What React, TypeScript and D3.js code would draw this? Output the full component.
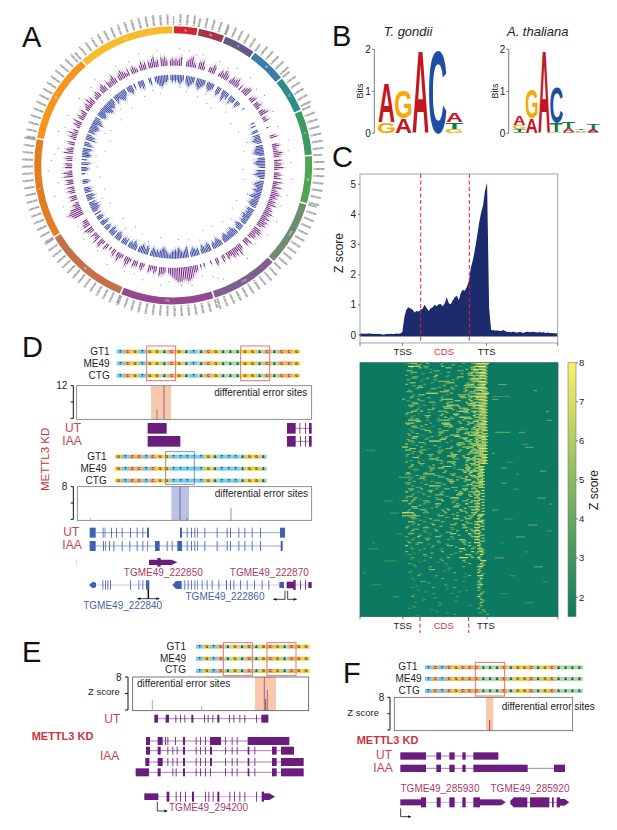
import React from "react";
import * as d3 from "d3";

const FONT = "'Liberation Sans', Arial, sans-serif";

// ---------- Panel A: circos ----------
const chromosomes = ["Ia","Ib","II","III","IV","V","VI","VIIa","VIIb","VIII","IX","X","XI","XII"];
const chromosomeMb = [1.87,2.05,2.5,2.8,2.8,3.45,3.65,5.0,5.2,7.1,6.6,7.6,6.8,7.4];
const chromosomeColors = ["#d9232e","#a5334f","#615a86","#3b7ca9","#2e8c8b","#3d9a62","#4ea552","#6f8c6f","#7d5f90","#96488f","#c66f4b","#e37c22","#f7941e","#f8bb2b"];
const purpleBars = [
"343450034563204452003354002435430243453030345500234033420345",
"022300010000340003422354304243520342405325234534243523435435",
"354530455344205340034635453340240034002000202034467887788876",
"543034450342340024303340245302353043020340254053240345044330",
"006787634204340342404340535204340343053420340243523024350342",
"340234253402343034530433453034543240343203534043563405453034"];
const blueBars = [
"343454304565430456543034543004540356340353303420001000000000",
"020300340434543044556530445654305456430345543543456344543044",
"343544343045430345444345430345434304543453043454306543456454",
"432345654343453045345430345343043430345404354034304530343040",
"345453404354043430034300020343045030454345054306453043455436",
"543045543456645543054345654303454030043540003400345665443034"];
const purpleOutliers: [number,number][] = [[3,118],[8,117],[15,116],[24,115],[33,117],[41,118],[52,116],[61,114],[77,118],[88,118],[96,119],[104,118],[118,117],[126,116],[141,118],[156,123],[158,120],[160,117],[171,120],[176,119],[186,119],[195,117],[205,116],[214,118],[231,115],[245,117],[256,122],[262,116],[268,125],[273,122],[279,116],[287,120],[296,117],[306,116],[318,117],[330,116],[343,118],[352,117],[12,114],[29,113],[47,114],[69,112],[82,116],[110,115],[133,113],[165,113],[182,115],[200,114],[222,113],[238,112],[250,117],[276,119],[290,115],[314,114],[337,114]];
const blueOutliers: [number,number][] = [[10,76],[19,74],[28,72],[33,70],[44,76],[53,72],[62,74],[78,72],[92,70],[100,72],[118,72],[125,72],[138,74],[147,71],[155,70],[168,74],[176,73],[190,72],[205,74],[212,71],[224,72],[240,73],[252,72],[262,74],[270,76],[283,70],[292,68],[300,72],[312,70],[325,72],[338,76],[350,74],[5,80],[24,79],[72,78],[85,80],[110,79],[132,78],[160,78],[198,79],[218,78],[246,78],[278,78],[296,76],[318,78],[345,79]];

// ---------- Panel B: logos ----------
type Glyph = { col:number; c:string; lo:number; hi:number };
const logoGondii: Glyph[] = [
 {col:0,c:"G",lo:0,hi:.25},{col:0,c:"A",lo:.28,hi:1.24},
 {col:1,c:"A",lo:0,hi:.36},{col:1,c:"G",lo:.36,hi:1.03},
 {col:2,c:"A",lo:0,hi:2},{col:3,c:"C",lo:0,hi:2},
 {col:4,c:"G",lo:0,hi:.1},{col:4,c:"T",lo:.1,hi:.27},{col:4,c:"A",lo:.27,hi:.5}];
const logoThaliana: Glyph[] = [
 {col:0,c:"C",lo:0,hi:.03},{col:0,c:"T",lo:.03,hi:.1},{col:0,c:"G",lo:.1,hi:.2},{col:0,c:"A",lo:.2,hi:.41},
 {col:1,c:"A",lo:0,hi:.36},{col:1,c:"G",lo:.36,hi:1.05},
 {col:2,c:"A",lo:0,hi:2},
 {col:3,c:"G",lo:0,hi:.02},{col:3,c:"T",lo:.02,hi:.25},{col:3,c:"C",lo:.25,hi:1.1},
 {col:4,c:"C",lo:0,hi:.04},{col:4,c:"A",lo:.04,hi:.12},{col:4,c:"T",lo:.12,hi:.27},
 {col:5,c:"G",lo:0,hi:.03},{col:5,c:"A",lo:.03,hi:.07},{col:5,c:"T",lo:.08,hi:.1},
 {col:6,c:"C",lo:0,hi:.03},{col:6,c:"A",lo:.03,hi:.1},{col:6,c:"T",lo:.1,hi:.22}];
const logoColors: Record<string,string> = {A:"#c4161f",G:"#f6a90b",C:"#1e4ea3",T:"#0d7d3e"};
const glyphWidth: Record<string,number> = {A:72,G:70,C:64,T:58};

// ---------- Panel C: metagene ----------
const zProfile = [.04,.05,.04,.04,.05,.05,.04,.03,.03,.04,.03,.02,.02,.03,.03,.04,.03,.03,.05,.04,.05,
.1,.6,.85,.92,.88,.85,.75,.8,.78,.84,.87,1.0,.9,.8,.88,.92,1.0,.95,1.02,1.03,.95,1.05,1.25,1.05,1.02,1.15,1.25,1.3,1.15,1.4,1.5,1.47,1.6,1.8,2.25,2.5,2.85,3.25,3.7,4.05,4.3,4.8,5.05,.9,
.17,.16,.15,.15,.14,.13,.17,.13,.1,.1,.09,.12,.08,.08,.1,.09,.07,.1,.11,.09,.1,.11,.09,.08,.1,.08,.09,.07,.08,.07,.07,.06,.06,.05];
const zTicks = [0,1,2,3,4,5];

// ---------- Panel C: heat map (Z score digits for columns between TSS and TTS) ----------
const heatMid = [
".3466...5....3......4..568888",
"..7866.44....5.....3...47888",
".........3...........5.68787",
"...55....4.....5......466788",
".4.........6...3......565687",
"...44...5.........4...477788",
"......3.....5555.......56888",
".5.....4......3......567.678",
".....66.....4...4....5557888",
"..4...........55.....6..6786",
"........7777....5.....4568788",
"...5.3.......3.....66.678888",
"5....5.......6666.....6.5787",
"...44....55....55....5.57667",
"..55...4..3....7766...678887",
".....3....5...666..665.56786",
"...66.6.....555...4777.67688",
".5...3.......5...77.....5687",
"...4....5.....6.4..7766.6768",
"..6666..4...5566....4...5677",
".666.....4...677...5..66.788",
"...55.5...3...557.......6877",
"..3...44....5.....5666.67878",
"...4.....5..66....6..557787",
"..5...3.....5...667...788877",
"...66...4....56....477..6788",
"..55.....7777...3....67.6876",
".6.3...4..........666.577878",
"77....5.....4...5...6677.887",
".66...55....44.....5...77787",
"...4..6.....5...6.....66878",
".4...4...5.....777..6...7788",
".....3...666.....44..5777877",
".5...5.......4.666...5..7868",
"...6..4...5......5...7.678",
"..4......55.66...3...77.787",
"....3....4....5.....6667878",
".55....6666.....55....6..87",
"...3..55....55....44.7.6787",
"..4....4.......66.5..77..78",
".55...3....55...6......6688",
"...4.....7766.......44.5776",
"..55..5....4..55....67.66",
".6...4...6...5.....7..5678",
"...4...3...555....66..6.78",
".4..6......4....777.....67",
"66.5...55....6...4..55.677",
"..5....4...66.....5..7..68",
"...66......5.....66...5677",
"..4...55.....4.6...7...777",
"8877...44.....5...4..5.67",
"666665......55....6...55.78",
"...44....5.......77..66..7",
"..66...4.....5.......5..688",
"...3.5....6.....55..7...67",
".5.....55.......4...55..77",
"...5...4...6......5..6.587",
"..55.....3......66....7.67",
".4...6.....55...4......577",
"...4....5......4...66...67",
"..5..55.....4.......5.5.77",
".6........4....55.....6..7",
"...4...4.....3.....77..5.66",
".5...........5.....5...6.57",
"..3....5........4....66...7",
"...4.....4.....5...777.5.7",
".......3.....4......5.....67",
"..4...........3.......5...6",
"....3....4..........4....67",
".........55....3.........5",
"..3..............4.......6",
".....4.....3..........5..67",
"...3.........4............6",
"......44............3....5",
"..............3..........56",
"...3......4......4.......6",
".....3...............3...4",
"..........3.....3.........5",
"...4..............3......6",
".......3..................5",
"....3.......3.............5",
"............3.........3...4",
"..3......................4",
"...........3...............4",
".................3..........4"];
// a second, interleaved set of thin rows between the rows above
const heatMid2 = [
"....55......4...5.......5667",
"..4..6.5......66......56.676",
".66.......55......55...66.77",
"..3...4.....3......5.57.5687",
"...55.....6...4...66...5.767",
".5....3...5.....5.....6775.6",
"..66.....4....566....5.4.677",
"...4.5.......5...5..6665.68",
"....4....55.....6...5...6778",
".55.....3...666.....5.66..76",
"...3.66.......4...5555..5677",
"..5.....5...4......66.5.7667",
".4...44.....5....66...7..578",
"...66.....3...5......677.687",
"..5..3.......666..5....6.776",
"....5...55......5...67...687",
".55.....4.....5.....55.6.577",
"...3...66...5....5.....7.667",
"..4.5......4...55...666..676",
"....66.....3......5..5.67.78",
".5.....5.....666.....5..5687",
"...55...3......4...6...6.677",
"..3....66....55...5.....6.78",
".4..5.......4.......66.57.67",
"...66....5....5..66.....5687",
".5.....4....66......5.6.6.77",
"...3.55.......4...55..5.6.76",
"....4.....5.......6....66677",
"..66....3.....55.....6.5.787",
"...4.5.....44.....5...6.5687",
".5......55......66...5...677",
"...66......4....5...66.6..78",
"..4...3....55........6.5.677",
".....55.....4...5.....66.687",
"..5.....3....666.....5...77",
"...44....5........55.6.5.68",
".6.....4.....5......6.7..67",
"....5.....44....5.....66.77",
"..3..55.......5....55...5.6",
"...5.....4.....66...5..6.78",
".4.....5.....5.......66..67",
"....44.....3....55.....5.77",
"..5.....55.......5..6...6.8",
"...3..4.....5.....66...5.67",
".55.....4.....4.......6.5.7",
"...5.3.....55....4...5...67",
"..4....44.......5.....6.5.7",
".....5.....3.....55.....5.7",
"...55....4....4.....6...6.6",
".4.....5.....5.....55...5.7",
"...6.......4....5......6.67",
"..55...3......5.....5.5..6",
".....4....55.......5.....67",
"...4.....4.......5...55.5.6",
".5.....3....5.......5....67",
"...55.....4.....4.....5.5.7",
"..3....4......55.......5.6",
".....5......4.....5...5..66",
"...3...44.......4.......5.6",
".4.........5.......55....57",
"....5...3.....4.....5....6",
"..3......4.......5.....5.5",
".....4......3.......4....66",
"...3.....5.......4......5.6",
".......4......3.......5..5",
"..3.........4.......3....6",
".....3.....3........4.....5",
"...4..........3..........56",
"........3......4.........5",
"..3..........3...........6",
".....4..............3.....5",
"..........3.........3....5",
"...3.............4.......5",
"........4................6",
"....3.........3..........5",
"..............3..........4",
".......3..........3.......5",
"...3.....................5",
"..........4..............4",
"......3..........3........5",
"............3............4",
"...4.....................4",
".........3................5",
"..............3..........4",
"....3....................."];
// row, column, length, Z score for streaks outside the gene body
const heatOut: [number,number,number,number][] = [
[7,46,3,4],[9,58,1,4],[12,44,2,4],[16,62,1,4],[23,45,5,4],[23,53,2,4],[24,42,1,3],[28,55,3,4],[30,44,1,4],[33,49,2,3],[36,60,2,4],
[37,52,1,3],[40,47,2,4],[42,51,2,3],[45,59,3,4],[47,63,1,4],[49,44,2,4],[52,48,3,3],[54,56,3,4],[56,62,2,3],[58,52,3,4],[60,47,1,3],[63,55,1,3],
[65,45,3,4],[68,58,3,4],[71,50,2,3],[73,61,2,3],[77,47,2,3],[80,55,3,3],[11,44,6,3],[19,62,2,4],[27,54,2,3],[35,47,2,4],
[29,2,3,3],[38,13,4,4],[46,8,3,3],[57,12,2,3],[62,3,3,3],[66,8,4,3],[70,1,1,3],[74,4,3,3],[78,11,2,3],[60,4,1,3],[50,10,3,3]];

// ---------- Sequences ----------
const seqD1 = "TCGTGGACGATACGAAAGGACACCG";
const seqD2 = "GTCCTCGGTTTTTGATTTAGGA";
const seqE = "TGTCAGACAGCGACGG";
const seqF = "TCTCGCCCAAACAGGCAGCAAAA";
const strains = ["GT1","ME49","CTG"];
const baseColors: Record<string,string> = {A:"#a5dca8",T:"#74cdef",G:"#f8cb3c",C:"#f6ab62"};

// ---------- Gene models (exon = [start,end] or a single narrow exon position) ----------
type Exon = number | [number,number] | [number,number,number];
const PURPLE = "#6b1d7d", BLUE = "#4160b8", RED = "#c8434d", MAGENTA = "#a93b6c", BLUETXT = "#4a5fae";
const dUt1: Exon[] = [[413,470]];
const dUt2: Exon[] = [[831,857],868,885,[897,905]];
const dIaa1: Exon[] = [[413,511]];
const dIaa2: Exon[] = [[831,857],870,885,[897,905]];
const dUtB1: Exon[] = [[239,257],278,[284,286],303,318,335,360,380,397,[411,417]];
const dUtB2: Exon[] = [[510,516],530,543,553,[562,564],583,620,650,660,685,703,725,750,[810,825]];
const dIaaB: Exon[] = [[239,257],279,[285,287],297,310,335,358,380,397,[411,413],[435,449],470,485,[502,516],530,543,553,[562,564],583,620,650,660,685,703,725,750,[812,818]];
const dGene1: Exon[] = [277,285,292,300,360,385,397,[408,418,28]];
const dGene2: Exon[] = [523,533,543,553,[562,564],575,590,605,625,[648,651],660,670,690,710,732,755,775,[808,822,18]];
const dGene3: Exon[] = [[830,852,20],[850,857,30],870,885,[895,905,18]];
const eUt: Exon[] = [[433,444],[467,477],496,510,523,[544,550],582,593,607,[622,628],657,670,688,703,738,[754,775]];
const eIaa1: Exon[] = [[408,420],[443,458],465,472,495,[519,525],557,570,585,[600,633],645,665,680,[713,838]];
const eIaa2: Exon[] = [[408,420],[443,452],472,487,500,[519,525],557,570,585,[600,606],645,665,680,[713,718],733,[786,800],[813,852]];
const eIaa3: Exon[] = [[406,418],[443,458],472,487,500,[519,525],557,570,585,[600,606],645,665,680,[713,718],733,[786,800],[813,881]];
const eIaa4: Exon[] = [[377,417],[443,452],487,497,[519,525],557,570,585,600,645,665,680,[713,718],733,[786,800],[813,881]];
const eGene: Exon[] = [[403,445,20],[470,478,30],497,510,525,[546,552],585,595,608,[622,628],658,672,688,703,738,[755,762,30],[762,780,20]];
const fUt: Exon[] = [[181,258],[289,303],[328,344],[367,377],[400,475]];
const fIaa: Exon[] = [[181,258],[289,303],[328,344],[367,377],[400,563],[642,675]];
const fGene1: Exon[] = [[181,243,18],[243,258,30],[290,302,30],[328,344,30],[367,377,30],[400,420,30],[420,485,18]];
const fGene2: Exon[] = [[520,562,30],[570,628,30],[636,641,30],[650,660,30],[660,675,20]];

type S = d3.ScaleLinear<number,number>;

function Seq({seq,x0,x1,y,sx,sy}:{seq:string;x0:number;x1:number;y:number;sx:S;sy:S}){
  const band = d3.scaleBand<number>().domain(d3.range(seq.length)).range([sx(x0),sx(x1)]);
  return <g>{seq.split("").map((c,i)=>(
    <g key={i}>
      <rect x={band(i)} y={sy(y)-2} width={band.bandwidth()+.2} height={4} fill={baseColors[c]}/>
      <text x={band(i)!+band.bandwidth()/2} y={sy(y)+1.3} fontSize={3.6} fontWeight="bold" textAnchor="middle" fill="#222">{c}</text>
    </g>))}</g>;
}

function Track({exons,y,from,to,color,h,sx,sy,light=false}:{exons:Exon[];y:number;from:number;to:number;color:string;h:number;sx:S;sy:S;light?:boolean}){
  return <g>
    <line x1={sx(from)} x2={sx(to)} y1={sy(y)} y2={sy(y)} stroke={color} strokeWidth={.7} opacity={light?.45:.8}/>
    {exons.map((e,i)=>{
      const s = typeof e==="number"?e:e[0];
      const en = typeof e==="number"?null:e[1];
      const hh = (typeof e!=="number" && e.length===3)?e[2]:h;
      const w = en===null?1:sx(en)-sx(s);
      const pxh = sy(hh)-sy(0);
      return <rect key={i} x={sx(s)} y={sy(y)-pxh/2} width={w} height={pxh} fill={color} opacity={en===null?.85:1}/>;
    })}
  </g>;
}

function Bracket({x,y0,y1,tick,sx,sy}:{x:number;y0:number;y1:number;tick:number;sx:S;sy:S}){
  const m=(y0+y1)/2;
  return <g stroke="#111" strokeWidth={1} fill="none">
    <path d={`M${sx(x-tick)},${sy(y0)}H${sx(x)}V${sy(y1)}H${sx(x-tick)}M${sx(x-tick)},${sy(m)}H${sx(x)}`}/>
  </g>;
}

function Logo({glyphs,x0,colW,base,bit}:{glyphs:Glyph[];x0:number;colW:number;base:number;bit:number}){
  const y = d3.scaleLinear().domain([0,2]).range([base,base-2*bit]);
  return <g>{glyphs.map((g,i)=>{
    const h = y(g.lo)-y(g.hi);
    const sxx = colW/glyphWidth[g.c], syy = h/72;
    const offs = g.c==="A"?0:g.c==="T"?-2:-4;
    return <text key={i} transform={`translate(${x0+g.col*colW+offs*sxx},${y(g.lo)}) scale(${sxx},${syy})`} fontSize={100} fontWeight="bold" fill={logoColors[g.c]}>{g.c}</text>;
  })}</g>;
}

function Circos(){
  const cx=173.2, cy=165.2, R1=139, R0=132;
  const total = d3.sum(chromosomeMb);
  const ang = d3.scaleLinear().domain([0,total]).range([0,2*Math.PI]);
  const arc = d3.arc<{a0:number;a1:number}>().innerRadius(R0).outerRadius(R1).startAngle(d=>d.a0).endAngle(d=>d.a1);
  let acc=0;
  const sectors = chromosomes.map((name,i)=>{const s=acc;acc+=chromosomeMb[i];return {name,s,e:acc,i};});
  const deg = (a:number)=>a*Math.PI/180;
  const rP = d3.scaleLinear().domain([0,9]).range([101,117]);
  const rB = d3.scaleLinear().domain([0,9]).range([92,76]);
  const bars = (rows:string[],r:S,color:string,key:string)=>rows.join("").split("").map((ch,i)=>{
    const v=+ch; if(!v) return null;
    const [x0,y0]=d3.pointRadial(deg(i+.5),r(0));
    const [x1,y1]=d3.pointRadial(deg(i+.5),r(v));
    const [x2,y2]=d3.pointRadial(deg(i+.5),r(v+1.5));
    return <g key={key+i}>
      <line x1={x1} y1={y1} x2={x2} y2={y2} stroke={color} strokeWidth={.7} opacity={.4}/>
      <line x1={x0} y1={y0} x2={x1} y2={y1} stroke={color} strokeWidth={1.1} opacity={.9}/>
    </g>;
  });
  const dots = (pts:[number,number][],color:string,key:string)=>pts.map(([a,r],i)=>{
    const [x,y]=d3.pointRadial(deg(a),r);
    return <circle key={key+i} cx={x} cy={y} r={.5} fill={color} opacity={.8}/>;
  });
  return <g transform={`translate(${cx},${cy})`}>
    {sectors.map(s=>{
      const ticks=d3.range(0,s.e-s.s,.5);
      const mid=(ang(s.s)+ang(s.e))/2;
      const [tx,ty]=d3.pointRadial(mid,(R0+R1)/2);
      const md=mid*180/Math.PI;
      const flip=md>90&&md<270;
      return <g key={s.name}>
        <path d={arc({a0:ang(s.s)+.006,a1:ang(s.e)-.006})!} fill={chromosomeColors[s.i]}/>
        <text transform={`translate(${tx},${ty}) rotate(${flip?md-180:md})`} fontSize={3} fill="#fff" textAnchor="middle" dy={1}>{s.name}</text>
        {ticks.map((t,j)=>{
          const a=ang(s.s+t);
          const d0=a*180/Math.PI;
          const right=d0<180;
          const [x,y]=d3.pointRadial(a,R1+1.5);
          return <text key={j} transform={`translate(${x},${y}) rotate(${right?d0-90:d0+90})`} fontSize={2.4} fill="#666" stroke="#999" strokeWidth={.25} textAnchor={right?"start":"end"} dy={.8}>{d3.format(",")(Math.round(t*1e6)+500000)}</text>;
        })}
      </g>;
    })}
    <g transform="translate(0,1.5)">
      {bars(purpleBars,rP,"#6c1a7a","p")}
      {bars(blueBars,rB,"#2f3f9f","b")}
      {dots(purpleOutliers,"#6c1a7a","po")}
      {dots(blueOutliers,"#2f3f9f","bo")}
    </g>
  </g>;
}

function Metagene(){
  const x=d3.scaleLinear().domain([0,zProfile.length-1]).range([360,557.7]);
  const y=d3.scaleLinear().domain([0,5]).range([335,184.3]);
  const area=d3.area<number>().x((_,i)=>x(i)).y0(y(-.05)).y1(d=>y(d)).curve(d3.curveLinear);
  return <g>
    <path d={area(zProfile)!} fill="#1c2a6e"/>
    <rect x={360} y={174} width={197.7} height={169} fill="none" stroke="#999" strokeWidth={.9}/>
    {[360,402.5,486.5,557.7].map(v=><line key={v} x1={v} x2={v} y1={343} y2={346} stroke="#555" strokeWidth={.7}/>)}
    {zTicks.map(t=><g key={t}>
      <line x1={358} x2={360} y1={y(t)} y2={y(t)} stroke="#555" strokeWidth={.7}/>
      <text x={356} y={y(t)+3.6} fontSize={10} textAnchor="end" fill="#222">{t}</text>
    </g>)}
    {[420.7,469.3].map(v=><line key={v} x1={v} x2={v} y1={174} y2={343} stroke="#e0202e" strokeWidth={1} strokeDasharray="4 2.5"/>)}
    <text transform="translate(343,253) rotate(-90)" fontSize={12} textAnchor="middle" fill="#222">Z score</text>
    <text x={402.7} y={355} fontSize={9.5} textAnchor="middle" fill="#222">TSS</text>
    <text x={444} y={355} fontSize={9.5} textAnchor="middle" fill="#e0303c">CDS</text>
    <text x={486.7} y={355} fontSize={9.5} textAnchor="middle" fill="#222">TTS</text>
  </g>;
}

function Heatmap(){
  const nCols=66, nRows=heatMid.length;
  const cx=d3.scaleBand<number>().domain(d3.range(nCols)).range([360,558]);
  const cy=d3.scaleBand<number>().domain(d3.range(nRows)).range([362.7,616.7]);
  const col=d3.scaleLinear<string>().domain([1.5,8]).range(["#0c7a60","#fbf265"]);
  const yBar=d3.scaleLinear().domain([1.5,8]).range([616.7,362.7]);
  const rh=cy.bandwidth(), cw=cx.bandwidth();
  return <g>
    <rect x={360} y={362.7} width={198} height={254} fill={col(1.5)}/>
    {heatMid.map((row,r)=>row.slice(0,29).split("").map((c,j)=>{
      if(c===".") return null;
      return <rect key={r+"-"+j} x={cx(14+j)} y={cy(r)!+.1} width={cw+.2} height={rh*.38} fill={col(+c)}/>;
    }))}
    {heatMid2.map((row,r)=>row.slice(0,28).split("").map((c,j)=>{
      if(c===".") return null;
      return <rect key={"b"+r+"-"+j} x={cx(14+j)!+cw/2} y={cy(r)!+rh*.55} width={cw+.2} height={rh*.34} fill={col(+c)}/>;
    }))}
    {heatOut.map(([r,c,l,z],i)=><rect key={i} x={cx(c)} y={cy(r)!+.4} width={cw*l} height={rh*.36} fill={col(z)}/>)}
    <rect x={360} y={362.7} width={198} height={254} fill="none" stroke="#2c5c50" strokeWidth={.7}/>
    {[360,402.8,487,558].map(v=><line key={v} x1={v} x2={v} y1={616.7} y2={619.5} stroke="#555" strokeWidth={.7}/>)}
    {[420,468.7].map(v=><line key={v} x1={v} x2={v} y1={617} y2={633} stroke="#e0202e" strokeWidth={1} strokeDasharray="4 2.5"/>)}
    <text x={402.7} y={629} fontSize={9.5} textAnchor="middle" fill="#222">TSS</text>
    <text x={443.7} y={629} fontSize={9.5} textAnchor="middle" fill="#e0303c">CDS</text>
    <text x={486} y={629} fontSize={9.5} textAnchor="middle" fill="#222">TTS</text>
    <defs><linearGradient id="cb" x1="0" x2="0" y1="1" y2="0">
      <stop offset="0" stopColor={col(1.5)}/><stop offset="1" stopColor={col(8)}/>
    </linearGradient></defs>
    <rect x={568} y={362.7} width={8} height={254} fill="url(#cb)" stroke="#777" strokeWidth={.6}/>
    {[2,3,4,5,6,7,8].map(t=><g key={t}>
      <line x1={576} x2={578} y1={yBar(t)} y2={yBar(t)} stroke="#444" strokeWidth={.7}/>
      <text x={579} y={yBar(t)+3.4} fontSize={9.5} fill="#222">{t}</text>
    </g>)}
    <text transform="translate(598,490) rotate(-90)" fontSize={12} textAnchor="middle" fill="#222">Z score</text>
  </g>;
}

function PanelD(){
  const sx=d3.scaleLinear().domain([0,930]).range([10,320]);
  const sy=d3.scaleLinear().domain([0,870]).range([330,620]);
  const rows1=[65,100,137], lab1=[75,112,148], rows2=[380,416,452], lab2=[390,426,462];
  const T=(p:any)=><text fontSize={10} fill="#222" {...p}/>;
  return <g>
    {strains.map((n,i)=><T key={n} x={sx(299)} y={sy(lab1[i])} textAnchor="end">{n}</T>)}
    {rows1.map(y=><Seq key={y} seq={seqD1} x0={320} x1={870} y={y} sx={sx} sy={sy}/>)}
    {[410,692].map(v=><rect key={v} x={sx(v)} y={sy(48)} width={sx(87)-sx(0)} height={sy(104)-sy(0)} fill="none" stroke="#e8636b" strokeWidth={.9}/>)}
    <rect x={sx(423)} y={sy(167)} width={sx(60)-sx(0)} height={sy(101)-sy(0)} fill="#f6c9ad"/>
    <rect x={sx(200)} y={sy(167)} width={sx(705)-sx(0)} height={sy(101)-sy(0)} fill="none" stroke="#777" strokeWidth={.8}/>
    <line x1={sx(462)} x2={sx(462)} y1={sy(167)} y2={sy(268)} stroke="#7a3a6a" strokeWidth={.7}/>
    <line x1={sx(441)} x2={sx(441)} y1={sy(238)} y2={sy(268)} stroke="#9a4a6a" strokeWidth={.7}/>
    <text x={sx(892)} y={sy(198)} fontSize={10} textAnchor="end" fill="#222">differential error sites</text>
    <T x={sx(172)} y={sy(178)} textAnchor="end">12</T>
    <Bracket x={190} y0={167} y1={265} tick={8} sx={sx} sy={sy}/>
    <text x={sx(165)} y={sy(305)} fontSize={12} fill={RED}>UT</text>
    <text x={sx(157)} y={sy(345)} fontSize={12} fill={RED}>IAA</text>
    <text transform={`translate(${sx(117)},${sy(388)}) rotate(-90)`} fontSize={11.5} textAnchor="middle" fill="#c8353f">METTL3 KD</text>
    <Track exons={dUt1} y={295} from={413} to={470} color={PURPLE} h={32} sx={sx} sy={sy}/>
    <Track exons={dUt2} y={295} from={831} to={905} color={PURPLE} h={32} sx={sx} sy={sy}/>
    <Track exons={dIaa1} y={334} from={413} to={511} color={PURPLE} h={32} sx={sx} sy={sy}/>
    <Track exons={dIaa2} y={334} from={831} to={905} color={PURPLE} h={32} sx={sx} sy={sy}/>

    {strains.map((n,i)=><T key={n} x={sx(290)} y={sy(lab2[i])} textAnchor="end">{n}</T>)}
    {rows2.map(y=><Seq key={y} seq={seqD2} x0={315} x1={770} y={y} sx={sx} sy={sy}/>)}
    <rect x={sx(467)} y={sy(365)} width={sx(86)-sx(0)} height={sy(98)-sy(0)} fill="none" stroke="#6a86c0" strokeWidth={.9}/>
    <rect x={sx(484)} y={sy(470)} width={sx(53)-sx(0)} height={sy(101)-sy(0)} fill="#bcc2e4"/>
    <rect x={sx(202)} y={sy(470)} width={sx(703)-sx(0)} height={sy(101)-sy(0)} fill="none" stroke="#777" strokeWidth={.8}/>
    <line x1={sx(510)} x2={sx(510)} y1={sy(470)} y2={sy(571)} stroke="#3c4aa0" strokeWidth={.7}/>
    <line x1={sx(663)} x2={sx(663)} y1={sy(533)} y2={sy(571)} stroke="#5a6498" strokeWidth={.7}/>
    <line x1={sx(531)} x2={sx(531)} y1={sy(563)} y2={sy(571)} stroke="#5a6498" strokeWidth={.7}/>
    <line x1={sx(241)} x2={sx(241)} y1={sy(563)} y2={sy(571)} stroke="#8a94c0" strokeWidth={.7}/>
    <text x={sx(894)} y={sy(500)} fontSize={10} textAnchor="end" fill="#222">differential error sites</text>
    <T x={sx(172)} y={sy(480)} textAnchor="end">8</T>
    <Bracket x={190} y0={470} y1={568} tick={8} sx={sx} sy={sy}/>
    <text x={sx(160)} y={sy(618)} fontSize={12} fill={RED}>UT</text>
    <text x={sx(157)} y={sy(656)} fontSize={12} fill={RED}>IAA</text>
    <Track exons={dUtB1} y={608} from={239} to={417} color={BLUE} h={30} sx={sx} sy={sy}/>
    <Track exons={dUtB2} y={608} from={510} to={825} color={BLUE} h={30} sx={sx} sy={sy}/>
    <Track exons={dIaaB} y={648} from={239} to={818} color={BLUE} h={30} sx={sx} sy={sy}/>
    <rect x={sx(199)} y={sy(690)} width={.6} height={5} fill="#bbb"/>
    <polygon points={[[417,689],[485,689],[502,697],[485,705],[417,705]].map(p=>`${sx(p[0])},${sy(p[1])}`).join(" ")} fill={PURPLE}/>
    <rect x={sx(442)} y={sy(684)} width={sx(10)-sx(0)} height={sy(26)-sy(0)} fill={PURPLE}/>
    <text x={sx(460)} y={sy(738)} fontSize={10} textAnchor="middle" fill={MAGENTA}>TGME49_222850</text>
    <text x={sx(778)} y={sy(738)} fontSize={10} textAnchor="middle" fill={MAGENTA}>TGME49_222870</text>
    <text x={sx(338)} y={sy(838)} fontSize={10} textAnchor="middle" fill={BLUETXT}>TGME49_222840</text>
    <text x={sx(645)} y={sy(810)} fontSize={10} textAnchor="middle" fill={BLUETXT}>TGME49_222860</text>
    <Track exons={dGene1} y={765} from={240} to={418} color={BLUE} h={28} sx={sx} sy={sy} light/>
    <polygon points={[[237,765],[248,755],[258,758],[258,772],[248,775]].map(p=>`${sx(p[0])},${sy(p[1])}`).join(" ")} fill={BLUE}/>
    <Track exons={dGene2} y={765} from={490} to={822} color={BLUE} h={28} sx={sx} sy={sy} light/>
    <polygon points={[[487,765],[498,753],[515,753],[515,777],[498,777]].map(p=>`${sx(p[0])},${sy(p[1])}`).join(" ")} fill={BLUE}/>
    <Track exons={dGene3} y={765} from={830} to={905} color={PURPLE} h={28} sx={sx} sy={sy} light/>
    <g stroke="#111" fill="none">
      <path d={`M${sx(415)},${sy(778)}V${sy(806)}`} strokeWidth={1.5}/>
      <path d={`M${sx(382)},${sy(806)}H${sx(448)}`} strokeWidth={.8}/>
      <path d={`M${sx(825)},${sy(782)}V${sy(808)}H${sx(790)}M${sx(833)},${sy(782)}V${sy(808)}H${sx(860)}`} strokeWidth={.8}/>
    </g>
    {[[382,806,-1],[448,806,1],[790,808,-1],[860,808,1]].map(([a,b,d],i)=><polygon key={i} fill="#111" points={`${sx(a)},${sy(b)} ${sx(a)-d*3},${sy(b)-1.4} ${sx(a)-d*3},${sy(b)+1.4}`}/>)}
  </g>;
}

function PanelE(){
  const sx=d3.scaleLinear().domain([0,930]).range([10,320]);
  const sy=d3.scaleLinear().domain([0,600]).range([630,830]);
  const rows=[50,86,123], lab=[60,95,130];
  return <g>
    {strains.map((n,i)=><text key={n} x={sx(528)} y={sy(lab[i])} fontSize={10} textAnchor="end" fill="#222">{n}</text>)}
    {rows.map(y=><Seq key={y} seq={seqE} x0={558} x1={898} y={y} sx={sx} sy={sy}/>)}
    {[640,771].map(v=><rect key={v} x={sx(v)} y={sy(38)} width={sx(87)-sx(0)} height={sy(99)-sy(0)} fill="none" stroke="#e8636b" strokeWidth={.9}/>)}
    <rect x={sx(735)} y={sy(141)} width={sx(63)-sx(0)} height={sy(101)-sy(0)} fill="#f6c9ad"/>
    <rect x={sx(368)} y={sy(141)} width={sx(528)-sx(0)} height={sy(101)-sy(0)} fill="none" stroke="#555" strokeWidth={.8}/>
    <line x1={sx(763)} x2={sx(763)} y1={sy(141)} y2={sy(242)} stroke="#8a3a7a" strokeWidth={.7}/>
    <line x1={sx(772)} x2={sx(772)} y1={sy(180)} y2={sy(242)} stroke="#8a3a7a" strokeWidth={.7}/>
    <line x1={sx(767)} x2={sx(767)} y1={sy(207)} y2={sy(242)} stroke="#8a3a7a" strokeWidth={.9}/>
    <line x1={sx(427)} x2={sx(427)} y1={sy(210)} y2={sy(242)} stroke="#b070b0" strokeWidth={.7}/>
    <line x1={sx(575)} x2={sx(575)} y1={sy(228)} y2={sy(242)} stroke="#b070b0" strokeWidth={.7}/>
    <text x={sx(381)} y={sy(172)} fontSize={10} fill="#222">differential error sites</text>
    <text x={sx(335)} y={sy(153)} fontSize={10} textAnchor="end" fill="#222">8</text>
    <text x={sx(234)} y={sy(195)} fontSize={9.5} fill="#222">Z score</text>
    <Bracket x={354} y0={141} y1={240} tick={9} sx={sx} sy={sy}/>
    <text x={sx(283)} y={sy(280)} fontSize={12} fill={RED}>UT</text>
    <text x={sx(65)} y={sy(330)} fontSize={11} fontWeight="bold" fill="#c8353f">METTL3 KD</text>
    <text x={sx(270)} y={sy(390)} fontSize={12} fill={RED}>IAA</text>
    <Track exons={eUt} y={266} from={433} to={775} color={PURPLE} h={24} sx={sx} sy={sy}/>
    <Track exons={eIaa1} y={333} from={408} to={838} color={PURPLE} h={24} sx={sx} sy={sy}/>
    <Track exons={eIaa2} y={362} from={408} to={852} color={PURPLE} h={24} sx={sx} sy={sy}/>
    <Track exons={eIaa3} y={396} from={406} to={881} color={PURPLE} h={24} sx={sx} sy={sy}/>
    <Track exons={eIaa4} y={427} from={377} to={881} color={PURPLE} h={24} sx={sx} sy={sy}/>
    <Track exons={eGene} y={500} from={403} to={780} color={PURPLE} h={30} sx={sx} sy={sy} light/>
    <polygon points={[[778,490],[795,500],[778,510]].map(p=>`${sx(p[0])},${sy(p[1])}`).join(" ")} fill={PURPLE}/>
    <path d={`M${sx(442)},${sy(515)}V${sy(543)}H${sx(472)}`} stroke="#111" strokeWidth={.8} fill="none"/>
    <polygon points={`${sx(472)},${sy(543)} ${sx(472)-3},${sy(543)-1.4} ${sx(472)-3},${sy(543)+1.4}`} fill="#111"/>
    <text x={sx(477)} y={sy(542)} fontSize={10} fill={MAGENTA}>TGME49_294200</text>
  </g>;
}

function PanelF(){
  const sx=d3.scaleLinear().domain([0,831]).range([340,617]);
  const sy=d3.scaleLinear().domain([0,570]).range([640,830]);
  const rows=[82,117,153], lab=[90,126,162], right=[233,245,239];
  return <g>
    {strains.map((n,i)=><text key={n} x={sx(right[i])} y={sy(lab[i])} fontSize={10} textAnchor="end" fill="#222">{n}</text>)}
    {rows.map(y=><Seq key={y} seq={seqF} x0={255} x1={728} y={y} sx={sx} sy={sy}/>)}
    <rect x={sx(406)} y={sy(67)} width={sx(88)-sx(0)} height={sy(101)-sy(0)} fill="none" stroke="#e8636b" strokeWidth={.9}/>
    <rect x={sx(438)} y={sy(172)} width={sx(22)-sx(0)} height={sy(100)-sy(0)} fill="#f6c9ad"/>
    <rect x={sx(163)} y={sy(172)} width={sx(535)-sx(0)} height={sy(100)-sy(0)} fill="none" stroke="#666" strokeWidth={.8}/>
    <line x1={sx(449)} x2={sx(449)} y1={sy(240)} y2={sy(272)} stroke="#7a1a5a" strokeWidth={.8}/>
    <text x={sx(485)} y={sy(210)} fontSize={10} fill="#222">differential error sites</text>
    <text x={sx(133)} y={sy(184)} fontSize={10} textAnchor="end" fill="#222">8</text>
    <text x={sx(22)} y={sy(228)} fontSize={9.5} fill="#222">Z score</text>
    <Bracket x={150} y0={172} y1={270} tick={8} sx={sx} sy={sy}/>
    <text x={sx(50)} y={sy(313)} fontSize={11} fontWeight="bold" fill="#c8353f">METTL3 KD</text>
    <text x={sx(108)} y={sy(358)} fontSize={12} fill={RED}>UT</text>
    <text x={sx(100)} y={sy(396)} fontSize={12} fill={RED}>IAA</text>
    <Track exons={fUt} y={348} from={181} to={475} color={PURPLE} h={22} sx={sx} sy={sy}/>
    <Track exons={fIaa} y={385} from={181} to={675} color={PURPLE} h={22} sx={sx} sy={sy}/>
    <text x={sx(300)} y={sy(456)} fontSize={10} textAnchor="middle" fill={MAGENTA}>TGME49_285930</text>
    <text x={sx(570)} y={sy(456)} fontSize={10} textAnchor="middle" fill={MAGENTA}>TGME49_285920</text>
    <Track exons={fGene1} y={487} from={181} to={485} color={PURPLE} h={30} sx={sx} sy={sy} light/>
    <polygon points={[[484,478],[497,487],[484,496]].map(p=>`${sx(p[0])},${sy(p[1])}`).join(" ")} fill={PURPLE}/>
    <Track exons={fGene2} y={487} from={520} to={675} color={PURPLE} h={30} sx={sx} sy={sy}/>
    <polygon points={[[522,472],[511,482],[511,492],[522,502]].map(p=>`${sx(p[0])},${sy(p[1])}`).join(" ")} fill={PURPLE}/>
    <polygon points={[[674,477],[688,487],[674,497]].map(p=>`${sx(p[0])},${sy(p[1])}`).join(" ")} fill={PURPLE}/>
    <path d={`M${sx(182)},${sy(505)}V${sy(530)}H${sx(213)}`} stroke="#111" strokeWidth={.8} fill="none"/>
    <polygon points={`${sx(213)},${sy(530)} ${sx(213)-3},${sy(530)-1.4} ${sx(213)-3},${sy(530)+1.4}`} fill="#111"/>
  </g>;
}

export default function App(){
  const letters:[string,number,number][]=[["A",22,46.7],["B",332,46],["C",332,167],["D",22,356.7],["E",22,662],["F",343,683]];
  return <svg width={617} height={830} viewBox="0 0 617 830" style={{position:"absolute",left:0,top:0,fontFamily:FONT,background:"#fff"}}>
    {letters.map(([l,x,y])=><text key={l} x={x} y={y} fontSize={29} fill="#111">{l}</text>)}
    <Circos/>
    <text x={408} y={36} fontSize={13} fontStyle="italic" textAnchor="middle" fill="#222">T. gondii</text>
    <text x={537.7} y={36} fontSize={13} fontStyle="italic" textAnchor="middle" fill="#222">A. thaliana</text>
    <Logo glyphs={logoGondii} x0={378} colW={17} base={133.3} bit={42}/>
    <Logo glyphs={logoThaliana} x0={513.3} colW={12.3} base={133.3} bit={42}/>
    {[374.3,508.7].map((x)=><g key={x}>
      <path d={`M${x-2.5},49.3H${x}V133.3H${x-2.5}M${x-2.5},91.3H${x}`} fill="none" stroke="#444" strokeWidth={.7}/>
      {[2,1,0].map(t=><text key={t} x={x-3.5} y={133.3-t*42+3.5} fontSize={10} textAnchor="end" fill="#222">{t}</text>)}
      <text transform={`translate(${x-11},91) rotate(-90)`} fontSize={9} textAnchor="middle" fill="#222">Bits</text>
    </g>)}
    <Metagene/>
    <Heatmap/>
    <PanelD/>
    <PanelE/>
    <PanelF/>
  </svg>;
}
